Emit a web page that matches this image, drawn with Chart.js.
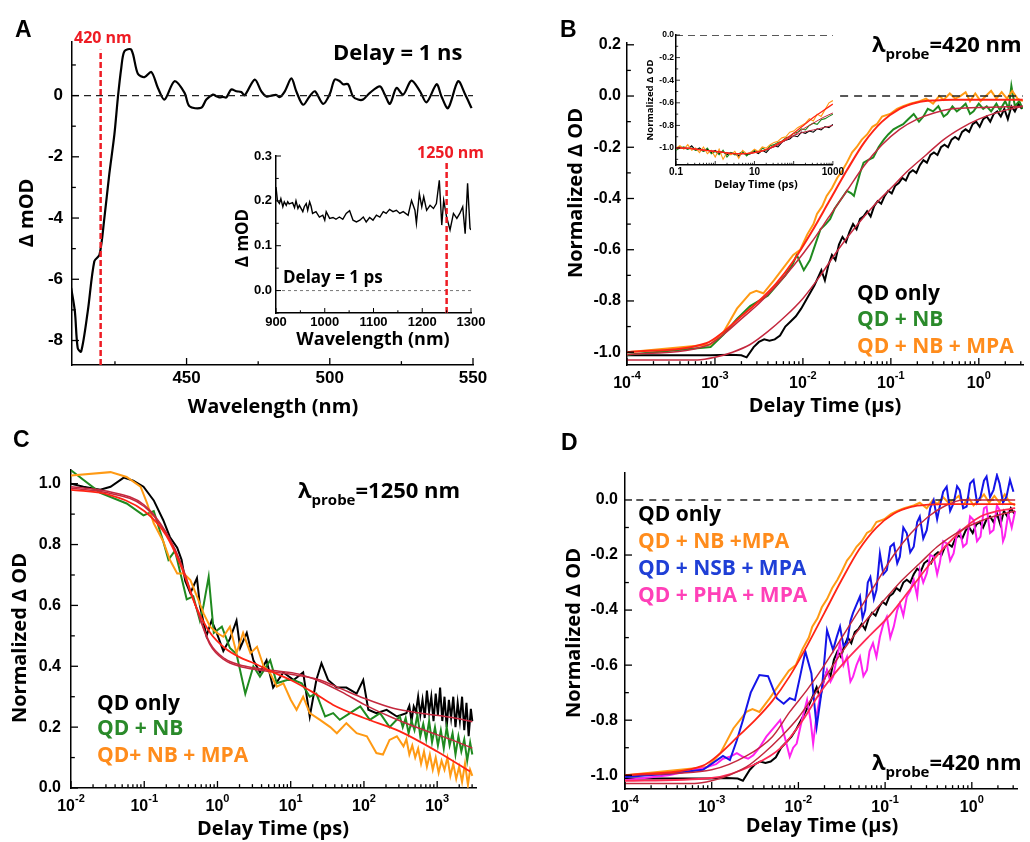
<!DOCTYPE html>
<html>
<head>
<meta charset="utf-8">
<script src="https://cdn.jsdelivr.net/npm/chart.js@4.4.0/dist/chart.umd.min.js"></script>
<style>
body { margin: 0; background: #fff; width: 1030px; height: 842px; position: relative; overflow: hidden; }
canvas { position: absolute; }
</style>
</head>
<body>
<canvas id="cA"></canvas>
<canvas id="cB"></canvas>
<canvas id="cC"></canvas>
<canvas id="cD"></canvas>
<canvas id="cAin"></canvas>
<canvas id="cBin"></canvas>
<script>
// ---------- data ----------
var probeVis = 420, probeNir = 1250;

// A: transient spectrum, delay 1 ns
var aWl = [409.7,411,412,413.2,415.5,417.8,419.6,421.3,423,424.8,426,427.2,428.3,430.7,433,435.3,437.7,440,442.3,445.8,449.3,451,455.1,456.9,459.2,460.4,461.5,462.7,463.9,465.6,467.4,469.1,470.3,473.8,476.1,477.9,479.6,481.4,482.5,484.3,486.6,488.3,490.7,493,494.8,497.7,500,501.7,503.5,504.6,506.4,508.1,509.9,511.6,514,517.5,519.2,521,523.3,525.6,528.5,531.5,533.8,537.3,539,541.3,544.8,547.2,549.5];
var aMod = [-6.28,-7.05,-8.25,-8.36,-7.05,-5.41,-5.2,-4.0,-2.58,-1.27,-0.08,0.9,1.45,1.5,0.71,0.6,0.77,0.25,-0.13,0.47,0.09,-0.35,-0.4,-0.13,0.03,-0.02,-0.06,-0.04,-0.06,0.2,0.14,0.12,0.01,0.52,0.14,-0.03,0,0.02,-0.05,0.14,0.56,0.14,-0.3,-0.02,0.14,-0.27,0.05,0.52,0.47,0.37,0.37,-0.03,-0.13,-0.13,0.09,0.3,0.03,-0.27,0.25,0.03,0.49,0.14,-0.22,0.37,-0.03,-0.41,0.47,0.05,-0.41];

// A inset: NIR spectrum, delay 1 ps
var aiWl = [900,903,907,910,914,917,921,924,927,934,938,941,945,948,955,958,962,965,969,972,975,982,989,996,1000,1003,1010,1017,1023,1030,1037,1044,1051,1058,1065,1072,1079,1085,1092,1099,1106,1113,1120,1126,1133,1140,1147,1154,1161,1171,1178,1185,1188,1194,1199,1203,1209,1216,1223,1229,1235,1240,1244,1250,1257,1264,1271,1277,1283,1288,1293,1298,1300];
var aiMod = [0.231,0.2,0.194,0.205,0.187,0.198,0.19,0.198,0.193,0.196,0.185,0.2,0.183,0.19,0.176,0.187,0.194,0.179,0.198,0.188,0.172,0.176,0.164,0.168,0.157,0.176,0.161,0.163,0.159,0.164,0.159,0.172,0.178,0.157,0.153,0.157,0.164,0.153,0.163,0.157,0.168,0.164,0.176,0.172,0.181,0.176,0.179,0.172,0.176,0.168,0.201,0.179,0.15,0.216,0.187,0.209,0.179,0.19,0.183,0.194,0.246,0.146,0.201,0.164,0.135,0.172,0.161,0.172,0.187,0.127,0.239,0.139,0.135];

// B / D: kinetics at 420 nm, time as log10(t / us)
var qdLogT = [-4,-3.5,-3.05,-2.83,-2.7,-2.64,-2.56,-2.5,-2.44,-2.38,-2.32,-2.26,-2.2,-2.14,-2.08,-2.02,-1.97,-1.92,-1.87,-1.83,-1.79,-1.75,-1.71,-1.67,-1.63,-1.59,-1.55,-1.51,-1.47,-1.43,-1.39,-1.35,-1.31,-1.27,-1.23,-1.19,-1.15,-1.11,-1.07,-1.03,-0.99,-0.95,-0.91,-0.87,-0.83,-0.79,-0.75,-0.71,-0.67,-0.63,-0.59,-0.55,-0.51,-0.47,-0.43,-0.39,-0.35,-0.31,-0.27,-0.23,-0.19,-0.15,-0.11,-0.07,-0.03,0.01,0.05,0.09,0.13,0.17,0.21,0.25,0.29,0.33,0.37,0.41,0.45,0.49];
var qdOnly = [-1.012,-1.012,-1.012,-1.01,-1.012,-1.02,-0.98,-0.96,-0.95,-0.955,-0.95,-0.935,-0.9,-0.88,-0.86,-0.83,-0.8,-0.77,-0.74,-0.71,-0.68,-0.72,-0.66,-0.62,-0.64,-0.58,-0.55,-0.57,-0.53,-0.5,-0.52,-0.48,-0.47,-0.45,-0.47,-0.43,-0.41,-0.42,-0.39,-0.37,-0.38,-0.35,-0.34,-0.32,-0.33,-0.3,-0.29,-0.3,-0.27,-0.25,-0.26,-0.23,-0.22,-0.23,-0.2,-0.19,-0.2,-0.17,-0.16,-0.17,-0.14,-0.13,-0.14,-0.11,-0.1,-0.12,-0.09,-0.08,-0.1,-0.07,-0.06,-0.08,-0.05,-0.09,-0.04,-0.06,-0.03,-0.05];
var nbLogT = [-4,-3.05,-2.9,-2.75,-2.6,-2.5,-2.4,-2.3,-2.2,-2.12,-2.07,-1.99,-1.92,-1.86,-1.8,-1.74,-1.69,-1.64,-1.58,-1.5,-1.45,-1.42,-1.39,-1.35,-1.31,-1.26,-1.2,-1.14,-1.08,-1.03,-0.97,-0.92,-0.86,-0.8,-0.74,-0.68,-0.63,-0.58,-0.52,-0.46,-0.4,-0.36,-0.3,-0.25,-0.21,-0.15,-0.1,-0.06,0,0.05,0.09,0.14,0.2,0.24,0.3,0.34,0.37,0.41,0.46,0.5];
var qdNb = [-1.01,-0.98,-0.93,-0.87,-0.82,-0.8,-0.78,-0.74,-0.7,-0.66,-0.62,-0.68,-0.64,-0.58,-0.52,-0.5,-0.48,-0.44,-0.41,-0.37,-0.38,-0.39,-0.35,-0.3,-0.26,-0.25,-0.24,-0.2,-0.17,-0.15,-0.13,-0.12,-0.11,-0.09,-0.07,-0.1,-0.08,-0.05,-0.06,-0.04,-0.08,-0.07,-0.04,-0.06,-0.05,-0.03,-0.07,-0.06,-0.03,-0.05,-0.04,-0.06,-0.03,-0.055,-0.02,-0.05,0.04,-0.04,-0.02,-0.05];
var mpaLogT = [-4,-3.05,-2.9,-2.75,-2.6,-2.53,-2.45,-2.33,-2.22,-2.11,-2.03,-1.95,-1.88,-1.84,-1.78,-1.73,-1.67,-1.61,-1.55,-1.5,-1.44,-1.39,-1.33,-1.27,-1.21,-1.16,-1.1,-1.01,-0.93,-0.86,-0.78,-0.67,-0.6,-0.52,-0.45,-0.4,-0.33,-0.27,-0.21,-0.15,-0.1,-0.04,0.02,0.08,0.14,0.2,0.26,0.32,0.38,0.44,0.5];
var qdNbMpa = [-1.0,-0.97,-0.92,-0.83,-0.77,-0.76,-0.77,-0.72,-0.67,-0.62,-0.6,-0.54,-0.5,-0.46,-0.43,-0.39,-0.36,-0.32,-0.29,-0.26,-0.22,-0.2,-0.17,-0.15,-0.12,-0.11,-0.08,-0.07,-0.05,-0.04,-0.03,-0.02,-0.01,-0.03,0.0,-0.015,0.01,-0.01,0.0,0.015,-0.02,0.01,-0.02,0.0,0.02,-0.01,0.015,-0.01,0.02,-0.01,-0.02];
var nsbLogT = [-4,-3.5,-3.1,-2.87,-2.79,-2.71,-2.64,-2.55,-2.45,-2.35,-2.25,-2.17,-2.1,-2.04,-1.98,-1.92,-1.85,-1.79,-1.73,-1.67,-1.6,-1.56,-1.52,-1.48,-1.44,-1.4,-1.37,-1.33,-1.29,-1.26,-1.23,-1.2,-1.17,-1.13,-1.1,-1.06,-1.02,-0.98,-0.94,-0.9,-0.86,-0.83,-0.79,-0.75,-0.71,-0.67,-0.63,-0.6,-0.56,-0.52,-0.48,-0.44,-0.4,-0.37,-0.33,-0.29,-0.25,-0.21,-0.17,-0.14,-0.1,-0.06,-0.02,0.02,0.06,0.1,0.14,0.17,0.21,0.25,0.29,0.32,0.36,0.4,0.44,0.48];
var qdNsbMpa = [-1.006,-0.995,-0.98,-0.93,-0.945,-0.873,-0.8,-0.7,-0.636,-0.64,-0.72,-0.74,-0.72,-0.727,-0.64,-0.55,-0.63,-0.824,-0.69,-0.473,-0.545,-0.5,-0.46,-0.53,-0.52,-0.44,-0.41,-0.38,-0.35,-0.43,-0.4,-0.3,-0.28,-0.36,-0.327,-0.194,-0.27,-0.255,-0.17,-0.158,-0.23,-0.206,-0.1,-0.121,-0.19,-0.17,-0.08,-0.06,-0.14,-0.11,-0.03,0.0,-0.07,-0.024,0.03,0.048,-0.04,-0.012,0.05,0.036,-0.03,-0.024,0.06,0.073,-0.01,0.012,0.07,0.085,0.01,0.036,0.09,0.06,-0.01,0.012,0.073,0.03];
var phaLogT = [-4,-3.5,-3.1,-2.95,-2.87,-2.79,-2.71,-2.64,-2.58,-2.52,-2.45,-2.37,-2.29,-2.21,-2.15,-2.1,-2.06,-2.02,-1.96,-1.9,-1.86,-1.83,-1.79,-1.75,-1.71,-1.67,-1.63,-1.6,-1.56,-1.52,-1.48,-1.44,-1.4,-1.37,-1.33,-1.29,-1.25,-1.21,-1.18,-1.14,-1.1,-1.06,-1.02,-0.98,-0.94,-0.9,-0.86,-0.83,-0.79,-0.75,-0.71,-0.67,-0.63,-0.6,-0.56,-0.52,-0.48,-0.44,-0.4,-0.37,-0.33,-0.29,-0.25,-0.21,-0.17,-0.14,-0.1,-0.06,-0.02,0.02,0.06,0.1,0.14,0.17,0.21,0.25,0.29,0.32,0.36,0.38,0.42,0.46,0.5];
var qdPhaMpa = [-1.018,-1.0,-0.975,-0.96,-0.94,-0.933,-0.92,-0.933,-0.94,-0.927,-0.9,-0.86,-0.83,-0.8,-0.87,-0.933,-0.9,-0.885,-0.8,-0.727,-0.8,-0.885,-0.78,-0.715,-0.66,-0.618,-0.66,-0.642,-0.58,-0.52,-0.6,-0.57,-0.66,-0.642,-0.6,-0.57,-0.64,-0.618,-0.55,-0.52,-0.57,-0.497,-0.45,-0.424,-0.5,-0.46,-0.4,-0.376,-0.42,-0.352,-0.33,-0.29,-0.35,-0.255,-0.3,-0.267,-0.2,-0.206,-0.27,-0.23,-0.15,-0.158,-0.22,-0.194,-0.12,-0.109,-0.17,-0.158,-0.06,-0.073,-0.15,-0.133,-0.03,-0.024,-0.12,-0.109,-0.02,-0.036,-0.15,-0.133,-0.05,-0.1,-0.04];

// fitted curves at 420 nm
var fitMpaLogT = [-4,-3.1,-2.9,-2.7,-2.5,-2.3,-2.1,-1.9,-1.7,-1.5,-1.3,-1.1,-0.9,-0.7,-0.5,-0.3,0,0.5];
var fitMpa = [-1.0,-0.965,-0.92,-0.86,-0.8,-0.73,-0.64,-0.53,-0.41,-0.29,-0.18,-0.1,-0.05,-0.025,-0.017,-0.015,-0.015,-0.015];
var fitNb = [-1.01,-0.975,-0.93,-0.87,-0.81,-0.74,-0.66,-0.57,-0.47,-0.37,-0.27,-0.19,-0.13,-0.09,-0.065,-0.05,-0.045,-0.04];
var fitQdLogT = [-4,-3.2,-3.0,-2.8,-2.6,-2.4,-2.2,-2.0,-1.8,-1.6,-1.4,-1.2,-1.0,-0.8,-0.6,-0.4,-0.2,0,0.25,0.5];
var fitQd = [-1.03,-1.03,-1.02,-1.0,-0.97,-0.92,-0.86,-0.79,-0.7,-0.6,-0.51,-0.43,-0.36,-0.29,-0.23,-0.17,-0.125,-0.09,-0.06,-0.04];
var fitNsbLogT = [-4,-3,-2.6,-2.3,-2.1,-1.9,-1.7,-1.5,-1.3,-1.1,-0.9,-0.7,-0.5,-0.3,-0.1,0.2,0.5];
var fitNsb = [-1.0,-0.98,-0.93,-0.86,-0.77,-0.69,-0.6,-0.5,-0.4,-0.3,-0.2,-0.12,-0.06,-0.02,0.0,0.0,0.0];
var fitPhaLogT = [-4,-3,-2.5,-2.2,-1.95,-1.75,-1.5,-1.2,-0.95,-0.7,-0.45,-0.15,0.1,0.3,0.5];
var fitPha = [-1.02,-1.01,-0.96,-0.9,-0.8,-0.7,-0.6,-0.5,-0.42,-0.32,-0.22,-0.12,-0.06,-0.04,-0.03];

// B inset: early time, log10(t / ps)
var ibLogT = [-1,-0.9,-0.8,-0.7,-0.6,-0.5,-0.4,-0.3,-0.2,-0.1,0,0.1,0.2,0.3,0.4,0.5,0.6,0.7,0.8,0.9,1,1.1,1.2,1.3,1.4,1.5,1.6,1.7,1.8,1.9,2,2.1,2.2,2.3,2.4,2.5,2.6,2.7,2.8,2.9,3];
var ibQd = [-1.0,-0.99,-1.0,-1.01,-0.98,-1.02,-1.0,-1.03,-1.01,-1.04,-1.02,-1.05,-1.03,-1.06,-1.04,-1.05,-1.07,-1.04,-1.06,-1.05,-1.03,-1.05,-1.02,-1.04,-1.0,-0.98,-0.99,-0.95,-0.93,-0.92,-0.89,-0.9,-0.86,-0.87,-0.85,-0.86,-0.83,-0.84,-0.81,-0.82,-0.79];
var ibNb = [-1.02,-1.0,-0.99,-1.01,-1.0,-1.02,-1.01,-1.03,-1.0,-1.05,-1.03,-1.06,-1.02,-1.08,-1.04,-1.06,-1.05,-1.03,-1.07,-1.04,-1.02,-1.04,-1.0,-1.02,-0.98,-0.97,-0.95,-0.94,-0.91,-0.9,-0.87,-0.86,-0.83,-0.84,-0.8,-0.78,-0.79,-0.75,-0.74,-0.72,-0.7];
var ibMpa = [-1.0,-0.98,-1.01,-0.97,-1.02,-1.0,-1.04,-0.99,-1.05,-1.02,-1.08,-1.01,-1.1,-1.04,-1.06,-1.03,-1.09,-1.02,-1.05,-1.04,-1.01,-1.03,-0.99,-1.0,-0.97,-0.95,-0.94,-0.91,-0.9,-0.86,-0.85,-0.82,-0.8,-0.78,-0.74,-0.76,-0.7,-0.72,-0.66,-0.6,-0.58];
var ibFitLogT = [-1,-0.75,-0.5,-0.25,0,0.25,0.5,0.75,1,1.25,1.5,1.75,2,2.25,2.5,2.75,3];
var ibFitMpa = [-1.0,-1.0,-1.01,-1.02,-1.03,-1.04,-1.05,-1.05,-1.04,-1.02,-0.98,-0.93,-0.87,-0.8,-0.73,-0.67,-0.61];
var ibFitNb = [-1.0,-1.0,-1.01,-1.02,-1.03,-1.04,-1.05,-1.05,-1.04,-1.02,-0.99,-0.94,-0.89,-0.83,-0.78,-0.73,-0.69];
var ibFitQd = [-1.0,-1.0,-1.01,-1.02,-1.03,-1.04,-1.05,-1.05,-1.04,-1.02,-0.99,-0.94,-0.89,-0.86,-0.84,-0.82,-0.8];

// C: kinetics at 1250 nm, log10(t / ps)
var cQdLogT = [-2,-1.83,-1.6,-1.46,-1.28,-1.15,-1.01,-0.87,-0.74,-0.65,-0.55,-0.49,-0.44,-0.37,-0.28,-0.24,-0.15,-0.08,-0.01,0.08,0.17,0.26,0.31,0.4,0.49,0.58,0.67,0.76,0.9,1.04,1.17,1.26,1.35,1.42,1.51,1.63,1.76,1.9,1.99,2.06,2.17,2.31,2.45,2.58,2.62,2.65,2.68,2.71,2.74,2.77,2.8,2.83,2.86,2.89,2.92,2.95,2.98,3.01,3.04,3.07,3.1,3.13,3.16,3.19,3.22,3.25,3.28,3.31,3.34,3.37,3.4,3.43,3.46,3.48];
var cQd = [1.0,0.99,0.98,0.99,1.02,1.01,0.99,0.945,0.88,0.825,0.79,0.75,0.68,0.64,0.69,0.6,0.5,0.55,0.51,0.45,0.49,0.55,0.46,0.51,0.42,0.38,0.42,0.33,0.38,0.355,0.38,0.235,0.355,0.41,0.355,0.33,0.33,0.31,0.355,0.257,0.246,0.257,0.235,0.246,0.27,0.22,0.268,0.25,0.3,0.24,0.29,0.23,0.32,0.25,0.3,0.22,0.31,0.24,0.33,0.22,0.3,0.2,0.29,0.23,0.3,0.2,0.28,0.22,0.3,0.19,0.28,0.17,0.26,0.22];
var cNbLogT = [-2,-1.6,-1.24,-1.01,-0.87,-0.74,-0.67,-0.58,-0.49,-0.42,-0.33,-0.24,-0.19,-0.12,-0.05,0.06,0.17,0.26,0.38,0.49,0.58,0.72,0.81,0.95,1.04,1.15,1.26,1.35,1.47,1.58,1.67,1.81,1.95,2.08,2.22,2.35,2.49,2.53,2.57,2.61,2.65,2.69,2.73,2.77,2.81,2.85,2.89,2.93,2.97,3.01,3.05,3.09,3.13,3.17,3.21,3.25,3.29,3.33,3.37,3.41,3.45,3.48];
var cNb = [1.044,0.97,0.935,0.896,0.91,0.81,0.75,0.78,0.69,0.62,0.63,0.55,0.6,0.694,0.51,0.53,0.46,0.44,0.31,0.4,0.366,0.42,0.344,0.355,0.355,0.344,0.3,0.31,0.235,0.246,0.224,0.246,0.268,0.224,0.246,0.2,0.235,0.2,0.23,0.18,0.22,0.19,0.24,0.17,0.21,0.16,0.22,0.15,0.2,0.14,0.19,0.13,0.2,0.14,0.18,0.11,0.17,0.12,0.16,0.09,0.15,0.11];
var cMpaLogT = [-2,-1.46,-1.24,-1.05,-0.96,-0.87,-0.74,-0.65,-0.55,-0.46,-0.37,-0.28,-0.19,-0.1,-0.01,0.08,0.17,0.26,0.35,0.45,0.54,0.63,0.72,0.81,0.9,1.0,1.08,1.17,1.26,1.4,1.54,1.63,1.76,1.9,2.04,2.17,2.26,2.35,2.45,2.54,2.58,2.62,2.66,2.7,2.74,2.78,2.82,2.86,2.9,2.94,2.98,3.02,3.06,3.1,3.14,3.18,3.22,3.26,3.3,3.34,3.38,3.42,3.45,3.48];
var cMpa = [1.027,1.038,1.022,0.99,0.935,0.87,0.81,0.75,0.705,0.705,0.683,0.63,0.574,0.53,0.51,0.497,0.53,0.443,0.51,0.443,0.464,0.4,0.377,0.333,0.344,0.29,0.257,0.3,0.246,0.224,0.2,0.18,0.213,0.18,0.17,0.115,0.11,0.158,0.17,0.137,0.16,0.11,0.14,0.1,0.13,0.08,0.12,0.07,0.11,0.06,0.1,0.05,0.09,0.06,0.1,0.04,0.08,0.03,0.07,0.02,0.08,0.01,0.06,0.04];
var cFitLogT = [-2,-1.5,-1.0,-0.7,-0.5,-0.3,-0.1,0.1,0.3,0.5,0.8,1.1,1.4,1.7,2.0,2.4,2.8,3.2,3.48];
var cFitQd = [0.99,0.975,0.93,0.84,0.74,0.6,0.47,0.42,0.4,0.39,0.38,0.37,0.355,0.325,0.295,0.262,0.245,0.232,0.218];
var cFitNb = [0.985,0.97,0.925,0.835,0.735,0.6,0.475,0.425,0.405,0.395,0.385,0.375,0.35,0.315,0.275,0.23,0.192,0.158,0.131];
var cFitMpaLogT = [-2,-1.5,-1.0,-0.7,-0.5,-0.3,-0.1,0.1,0.3,0.5,0.76,1.0,1.3,1.58,2.0,2.49,3.0,3.45];
var cFitMpa = [0.98,0.965,0.91,0.83,0.73,0.6,0.51,0.46,0.43,0.41,0.38,0.355,0.315,0.273,0.23,0.186,0.12,0.054];

// tick labels
var aYTicks = [0, -2, -4, -6, -8], aXTicks = [450, 500, 550];
var decadeExps = [-4, -3, -2, -1, 0];
var cDecadeExps = [-2, -1, 0, 1, 2, 3];
var insetBLabels = [0.1, 10, 1000];

// ---------- styling ----------
var TICKF = '"Liberation Sans", Arial, sans-serif';
var TEXTF = '"Open Sans", "Liberation Sans", sans-serif';
var RED = '#ee1c24', FITRED = '#ff2415', FITDARK = '#c4283e';
var GREEN = '#1f8a1f', ORANGE = '#ff9a14', BLUE = '#1414e8', PINK = '#ff22f0';

function pts(xs, ys) {
  var n = Math.min(xs.length, ys.length), out = [];
  for (var i = 0; i < n; i++) out.push({ x: xs[i], y: ys[i] });
  return out;
}
function logPts(ls, ys) {
  var n = Math.min(ls.length, ys.length), out = [];
  for (var i = 0; i < n; i++) out.push({ x: Math.pow(10, ls[i]), y: ys[i] });
  return out;
}
function ln(data, color, width, extra) {
  var d = { data: data, borderColor: color, borderWidth: width, pointRadius: 0, tension: 0, fill: false };
  for (var k in extra) d[k] = extra[k];
  return d;
}
function fit(data, color, width) {
  return ln(data, color, width, { tension: 0.4, cubicInterpolationMode: 'monotone' });
}

function linAxis(min, max, step, size, pad, fmt) {
  return {
    type: 'linear', min: min, max: max,
    grid: { display: false, drawTicks: false },
    border: { display: true, color: '#000', width: 1.5 },
    ticks: { stepSize: step, includeBounds: false, autoSkip: false, maxRotation: 0, color: '#000', padding: pad,
      font: { family: TICKF, size: size, weight: 'bold' }, callback: fmt }
  };
}
function logAxis(min, max) {
  return {
    type: 'logarithmic', min: min, max: max,
    grid: { display: false, drawTicks: false },
    border: { display: true, color: '#000', width: 1.5 },
    ticks: { display: false }
  };
}
var fix1 = function (v) { return v.toFixed(1); };
var plain = function (v) { return String(v); };

// per-canvas decorations: inward ticks, power-of-ten labels, free text
var DECO = {};
var deco = {
  id: 'deco',
  afterDraw: function (chart) {
    var o = DECO[chart.canvas.id];
    if (!o) return;
    var ctx = chart.ctx, ca = chart.chartArea;
    ctx.save();
    ctx.strokeStyle = '#000';
    ctx.lineWidth = o.tw || 1.3;
    o.marks.forEach(function (m) {
      var sc = chart.scales[m.axis], list = [];
      if (m.log) {
        var lo = Math.floor(Math.log10(sc.min) + 1e-9), hi = Math.ceil(Math.log10(sc.max));
        for (var e = lo; e <= hi; e++) {
          for (var k = 1; k < 10; k++) {
            var v = k * Math.pow(10, e);
            if (v >= sc.min * 0.999 && v <= sc.max * 1.001) list.push([v, k === 1 ? m.len : m.len * 0.55]);
          }
        }
      } else {
        m.major.forEach(function (v) { list.push([v, m.len]); });
        m.minor.forEach(function (v) { list.push([v, m.len * 0.55]); });
      }
      list.forEach(function (it) {
        var p = sc.getPixelForValue(it[0]);
        ctx.beginPath();
        if (m.axis === 'x') { ctx.moveTo(p, ca.bottom); ctx.lineTo(p, ca.bottom - it[1]); }
        else { ctx.moveTo(ca.left, p); ctx.lineTo(ca.left + it[1], p); }
        ctx.stroke();
      });
    });
    if (o.pow) {
      var sx = chart.scales.x;
      ctx.fillStyle = '#000';
      ctx.textBaseline = 'alphabetic';
      ctx.textAlign = 'left';
      o.pow.forEach(function (e) {
        var px = sx.getPixelForValue(Math.pow(10, e));
        var es = String(e);
        ctx.font = 'bold 16px ' + TICKF;
        var w1 = ctx.measureText('10').width;
        ctx.font = 'bold 11px ' + TICKF;
        var w2 = ctx.measureText(es).width;
        var x0 = px - (w1 + w2) / 2;
        ctx.font = 'bold 16px ' + TICKF;
        ctx.fillText('10', x0, ca.bottom + 23);
        ctx.font = 'bold 11px ' + TICKF;
        ctx.fillText(es, x0 + w1, ca.bottom + 14);
      });
    }
    (o.texts || []).forEach(function (t) {
      ctx.save();
      ctx.translate(t.x - o.ox, t.y - o.oy);
      if (t.rot) ctx.rotate(-Math.PI / 2);
      ctx.fillStyle = t.color || '#000';
      ctx.textBaseline = 'alphabetic';
      ctx.textAlign = 'left';
      var fam = t.fam || TEXTF;
      var parts = t.parts || [{ s: t.s, size: t.size }];
      var ws = parts.map(function (p) { ctx.font = 'bold ' + p.size + 'px ' + fam; return ctx.measureText(p.s).width; });
      var total = ws.reduce(function (a, b) { return a + b; }, 0);
      var x = t.center ? -total / 2 : 0;
      parts.forEach(function (p, i) {
        ctx.font = 'bold ' + p.size + 'px ' + fam;
        ctx.fillText(p.s, x, p.dy || 0);
        x += ws[i];
      });
      ctx.restore();
    });
    ctx.restore();
  }
};

function build(id, box, area, scales, datasets, decoration) {
  var cv = document.getElementById(id);
  cv.width = box.w; cv.height = box.h;
  cv.style.left = box.x + 'px'; cv.style.top = box.y + 'px';
  cv.style.width = box.w + 'px'; cv.style.height = box.h + 'px';
  var yW = area.l - box.x, xH = box.y + box.h - area.b;
  scales.x.afterFit = function (s) { s.height = xH; };
  scales.y.afterFit = function (s) { s.width = yW; };
  decoration.ox = box.x; decoration.oy = box.y;
  DECO[id] = decoration;
  return new Chart(cv, {
    type: 'line',
    data: { datasets: datasets },
    options: {
      responsive: false, animation: false, devicePixelRatio: 1, events: [],
      layout: { autoPadding: false, padding: { left: 0, bottom: 0, top: area.t - box.y, right: box.x + box.w - area.r } },
      plugins: { legend: { display: false }, tooltip: { enabled: false } },
      scales: scales
    },
    plugins: [deco]
  });
}

function probeLabel(x, y, nm) {
  return { x: x, y: y, parts: [{ s: 'λ', size: 22 }, { s: 'probe', size: 15, dy: 7 }, { s: '=' + nm + ' nm', size: 22 }] };
}

// ---------- panel A ----------
build('cA', { x: 0, y: 0, w: 515, h: 420 }, { l: 72, t: 42, r: 473, b: 365 },
  { x: linAxis(410, 550, 50, 17, 3, plain), y: linAxis(-8.8, 1.75, 2, 17, 9, plain) },
  [
    ln(pts([probeVis, probeVis], [-8.8, 1.5]), RED, 2.5, { borderDash: [6, 3] }),
    ln(pts([410, 550], [0, 0]), '#222', 1.3, { borderDash: [7, 5] }),
    ln(pts(aWl, aMod), '#000', 2.2, { tension: 0.3 })
  ],
  {
    marks: [
      { axis: 'x', major: aXTicks, minor: [425, 475, 525], len: 7 },
      { axis: 'y', major: aYTicks, minor: [1, -1, -3, -5, -7], len: 7 }
    ],
    texts: [
      { s: 'A', x: 15, y: 37, size: 23, fam: TICKF },
      { s: probeVis + ' nm', x: 74, y: 43, size: 16, color: RED },
      { s: 'Delay = 1 ns', x: 333, y: 60, size: 22 },
      { s: 'Δ mOD', x: 33, y: 213, size: 20, rot: true, center: true },
      { s: 'Wavelength (nm)', x: 273, y: 413, size: 20, center: true }
    ]
  });

build('cAin', { x: 225, y: 140, w: 265, h: 215 }, { l: 276, t: 156, r: 471, b: 313 },
  { x: linAxis(900, 1300, 100, 13, 2, plain), y: linAxis(-0.05, 0.3, 0.1, 13, 4, fix1) },
  [
    ln(pts([probeNir, probeNir], [-0.05, 0.287]), RED, 2.5, { borderDash: [6, 3] }),
    ln(pts([900, 1300], [0, 0]), '#777', 1, { borderDash: [3, 3] }),
    ln(pts(aiWl, aiMod), '#000', 1.4)
  ],
  {
    tw: 1,
    marks: [
      { axis: 'x', major: [900, 1000, 1100, 1200, 1300], minor: [950, 1050, 1150, 1250], len: 5 },
      { axis: 'y', major: [0, 0.1, 0.2, 0.3], minor: [-0.05, 0.05, 0.15, 0.25], len: 5 }
    ],
    texts: [
      { s: probeNir + ' nm', x: 417, y: 158, size: 16, color: RED },
      { s: 'Delay = 1 ps', x: 283, y: 283, size: 17 },
      { s: 'Δ mOD', x: 248, y: 238, size: 17, rot: true, center: true },
      { s: 'Wavelength (nm)', x: 373, y: 345, size: 18, center: true }
    ]
  });

// ---------- panel B ----------
build('cB', { x: 515, y: 0, w: 515, h: 420 }, { l: 627, t: 43, r: 1023, b: 365 },
  { x: logAxis(1e-4, 3.18), y: linAxis(-1.05, 0.207, 0.2, 16, 6, fix1) },
  [
    fit(logPts(fitMpaLogT, fitMpa), FITRED, 2),
    fit(logPts(fitMpaLogT, fitNb), FITDARK, 1.5),
    fit(logPts(fitQdLogT, fitQd), FITDARK, 1.5),
    ln(logPts([-1.577, 0.5], [0, 0]), '#222', 1.5, { borderDash: [8, 6] }),
    ln(logPts(mpaLogT, qdNbMpa), ORANGE, 2),
    ln(logPts(nbLogT, qdNb), GREEN, 2),
    ln(logPts(qdLogT, qdOnly), '#000', 2)
  ],
  {
    marks: [
      { axis: 'x', log: true, len: 7 },
      { axis: 'y', major: [0.2, 0, -0.2, -0.4, -0.6, -0.8, -1.0], minor: [0.1, -0.1, -0.3, -0.5, -0.7, -0.9], len: 7 }
    ],
    pow: decadeExps,
    texts: [
      { s: 'B', x: 560, y: 37, size: 23, fam: TICKF },
      probeLabel(872, 52, probeVis),
      { s: 'QD only', x: 857, y: 300, size: 21 },
      { s: 'QD + NB', x: 857, y: 326, size: 21, color: '#2a8a2a' },
      { s: 'QD + NB + MPA', x: 857, y: 353, size: 21, color: '#ff8c1c' },
      { s: 'Normalized Δ OD', x: 582, y: 193, size: 20, rot: true, center: true },
      { s: 'Delay Time (µs)', x: 825, y: 412, size: 20, center: true }
    ]
  });

var bInX = logAxis(0.1, 1000);
bInX.ticks = { display: true, autoSkip: false, maxRotation: 0, color: '#000', padding: 1,
  font: { family: TICKF, size: 10, weight: 'bold' },
  callback: function (v) {
    for (var i = 0; i < insetBLabels.length; i++) {
      if (Math.abs(v - insetBLabels[i]) < insetBLabels[i] * 1e-6) return String(insetBLabels[i]);
    }
    return '';
  } };
build('cBin', { x: 630, y: 25, w: 215, h: 175 }, { l: 676, t: 35, r: 836, b: 165 },
  { x: bInX, y: linAxis(-1.15, 0, 0.2, 8.5, 2, fix1) },
  [
    fit(logPts(ibFitLogT, ibFitMpa), FITRED, 1.3),
    fit(logPts(ibFitLogT, ibFitNb), FITDARK, 1),
    fit(logPts(ibFitLogT, ibFitQd), FITDARK, 1),
    ln(logPts([-1, 3], [0, 0]), '#222', 1.3, { borderDash: [7, 5] }),
    ln(logPts(ibLogT, ibMpa), ORANGE, 1.1),
    ln(logPts(ibLogT, ibNb), GREEN, 1.1),
    ln(logPts(ibLogT, ibQd), '#000', 1.1)
  ],
  {
    tw: 0.8,
    marks: [
      { axis: 'x', log: true, len: 4 },
      { axis: 'y', major: [0, -0.2, -0.4, -0.6, -0.8, -1.0], minor: [-0.1, -0.3, -0.5, -0.7, -0.9, -1.1], len: 4 }
    ],
    texts: [
      { s: 'Normalized Δ OD', x: 653, y: 100, size: 9.5, rot: true, center: true },
      { s: 'Delay Time (ps)', x: 756, y: 188, size: 11, center: true }
    ]
  });

// ---------- panel C ----------
build('cC', { x: 0, y: 420, w: 515, h: 422 }, { l: 71, t: 470, r: 476, b: 788 },
  { x: logAxis(0.01, 3390), y: linAxis(0, 1.045, 0.2, 16, 10, fix1) },
  [
    fit(logPts(cFitMpaLogT, cFitMpa), FITRED, 1.8),
    fit(logPts(cFitLogT, cFitNb), FITDARK, 1.5),
    fit(logPts(cFitLogT, cFitQd), FITDARK, 1.5),
    ln(logPts(cMpaLogT, cMpa), ORANGE, 2),
    ln(logPts(cNbLogT, cNb), GREEN, 2),
    ln(logPts(cQdLogT, cQd), '#000', 2)
  ],
  {
    marks: [
      { axis: 'x', log: true, len: 7 },
      { axis: 'y', major: [0, 0.2, 0.4, 0.6, 0.8, 1.0], minor: [0.1, 0.3, 0.5, 0.7, 0.9], len: 7 }
    ],
    pow: cDecadeExps,
    texts: [
      { s: 'C', x: 13, y: 447, size: 23, fam: TICKF },
      probeLabel(298, 498, probeNir),
      { s: 'QD only', x: 97, y: 710, size: 21 },
      { s: 'QD + NB', x: 97, y: 735, size: 21, color: '#2a8a2a' },
      { s: 'QD+ NB + MPA', x: 97, y: 762, size: 21, color: '#ff8c1c' },
      { s: 'Normalized Δ OD', x: 26, y: 638, size: 20, rot: true, center: true },
      { s: 'Delay Time (ps)', x: 273, y: 835, size: 20, center: true }
    ]
  });

// ---------- panel D ----------
build('cD', { x: 515, y: 420, w: 515, h: 422 }, { l: 625, t: 473, r: 1017, b: 789 },
  { x: logAxis(1e-4, 3.32), y: linAxis(-1.05, 0.098, 0.2, 16, 7, fix1) },
  [
    fit(logPts(fitMpaLogT, fitMpa), FITRED, 1.8),
    fit(logPts(fitNsbLogT, fitNsb), FITDARK, 1.5),
    fit(logPts(fitQdLogT, fitQd), FITDARK, 1.5),
    fit(logPts(fitPhaLogT, fitPha), '#ff2a55', 1.8),
    ln(logPts([-3.87, 0.46], [0, 0]), '#222', 1.4, { borderDash: [7, 6] }),
    ln(logPts(nsbLogT, qdNsbMpa), BLUE, 2),
    ln(logPts(phaLogT, qdPhaMpa), PINK, 2),
    ln(logPts(qdLogT, qdOnly), '#000', 2),
    ln(logPts(mpaLogT, qdNbMpa), ORANGE, 2)
  ],
  {
    marks: [
      { axis: 'x', log: true, len: 7 },
      { axis: 'y', major: [0, -0.2, -0.4, -0.6, -0.8, -1.0], minor: [-0.1, -0.3, -0.5, -0.7, -0.9], len: 7 }
    ],
    pow: decadeExps,
    texts: [
      { s: 'D', x: 561, y: 450, size: 23, fam: TICKF },
      { s: 'QD only', x: 638, y: 521, size: 21 },
      { s: 'QD + NB +MPA', x: 638, y: 548, size: 21, color: '#ff8c1c' },
      { s: 'QD + NSB + MPA', x: 638, y: 575, size: 21, color: '#1f3fd6' },
      { s: 'QD + PHA + MPA', x: 638, y: 602, size: 21, color: '#ff40b8' },
      probeLabel(872, 770, probeVis),
      { s: 'Normalized Δ OD', x: 580, y: 633, size: 20, rot: true, center: true },
      { s: 'Delay Time (µs)', x: 822, y: 832, size: 20, center: true }
    ]
  });
</script>
</body>
</html>
